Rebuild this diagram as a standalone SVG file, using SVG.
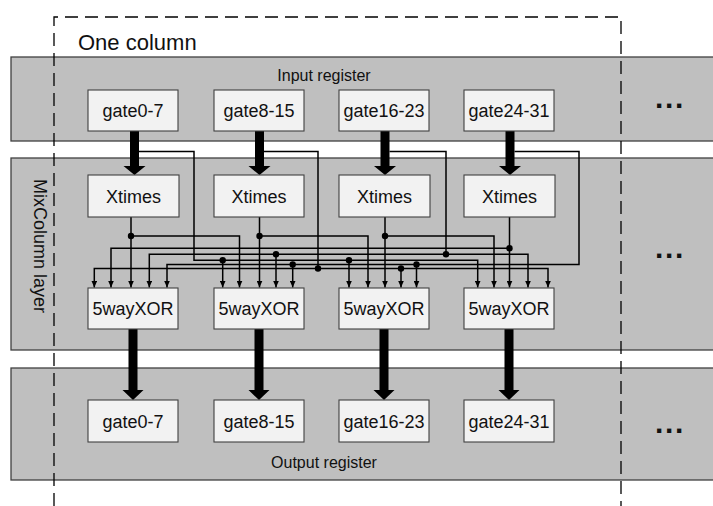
<svg xmlns="http://www.w3.org/2000/svg" width="713" height="506" viewBox="0 0 713 506">
  <style>
    .band { fill: #bfbfbf; stroke: #404040; stroke-width: 1.3; }
    .box { fill: #f2f2f2; stroke: #404040; stroke-width: 1.1; }
    .lbl { font-family: "Liberation Sans", Arial, sans-serif; font-size: 18px; fill: #111; text-anchor: middle; }
    .cap { font-family: "Liberation Sans", Arial, sans-serif; font-size: 16px; fill: #111; text-anchor: middle; }
    .dots { font-family: "Liberation Sans", Arial, sans-serif; font-size: 30px; font-weight: bold; fill: #111; text-anchor: middle; letter-spacing: 1.7px; }
    .wire { fill: none; stroke: #000; stroke-width: 1.5; }
    .wa { fill: none; stroke: #000; stroke-width: 1.5; marker-end: url(#tip); }
    .bus { fill: #000; }
    .jn { fill: #000; }
    .frame { fill: none; stroke: #000; stroke-width: 1.3; stroke-dasharray: 13 7; }
  </style>
  <defs>
    <marker id="tip" markerUnits="userSpaceOnUse" viewBox="0 0 7 6" markerWidth="7" markerHeight="6" refX="7" refY="3" orient="auto">
      <path d="M0,0 L7,3 L0,6 z" fill="#000"/>
    </marker>
  </defs>

  <rect width="713" height="506" fill="#fff"/>

  <!-- register / layer bands -->
  <g id="input-register">
    <rect class="band" x="11" y="57" width="720" height="84"/>
    <text class="cap" x="324" y="81">Input register</text>
    <text class="dots" x="670" y="108">...</text>
  </g>
  <g id="mixcolumn-layer">
    <rect class="band" x="11" y="158" width="720" height="192"/>
    <text class="cap" transform="translate(34,246) rotate(90)" style="font-size:18px">MixColumn layer</text>
    <text class="dots" x="670" y="258">...</text>
  </g>
  <g id="output-register">
    <rect class="band" x="11" y="368" width="720" height="112"/>
    <text class="cap" x="324" y="468">Output register</text>
    <text class="dots" x="670" y="433">...</text>
  </g>

  <!-- column boundary -->
  <g id="one-column">
    <path class="frame" d="M54,506 V17 H621 V506"/>
    <text x="78" y="50" style="font-family:'Liberation Sans',Arial,sans-serif;font-size:22px;fill:#111">One column</text>
  </g>

  <!-- connectors -->
  <g id="connectors">
    <!-- byte buses -->
    <polygon class="bus" points="130,131 139,131 139,166 145.5,166 134.5,175 123.5,166 130,166"/>
    <polygon class="bus" points="255,131 264,131 264,166 270.5,166 259.5,175 248.5,166 255,166"/>
    <polygon class="bus" points="380.5,131 389.5,131 389.5,166 396,166 385,175 374,166 380.5,166"/>
    <polygon class="bus" points="505.5,131 514.5,131 514.5,166 521,166 510,175 499,166 505.5,166"/>

    <polygon class="bus" points="128.5,329 137.5,329 137.5,390 143.5,390 133,400 122.5,390 128.5,390"/>
    <polygon class="bus" points="254.5,329 263.5,329 263.5,390 269.5,390 259,400 248.5,390 254.5,390"/>
    <polygon class="bus" points="379.5,329 388.5,329 388.5,390 394.5,390 384,400 373.5,390 379.5,390"/>
    <polygon class="bus" points="504.5,329 513.5,329 513.5,390 519.5,390 509,400 498.5,390 504.5,390"/>

    <!-- Xtimes outputs -->
    <path class="wa" d="M131,217 V287.5"/>
    <path class="wa" d="M131,236 H239.5 V287.5"/>
    <path class="wa" d="M259.5,217 V287.5"/>
    <path class="wa" d="M259.5,236 H368 V287.5"/>
    <path class="wa" d="M385,217 V287.5"/>
    <path class="wa" d="M385,236 H494 V287.5"/>
    <path class="wa" d="M509.5,217 V287.5"/>
    <path class="wa" d="M509.5,248.3 H111 V287.5"/>

    <!-- byte 0 -->
    <path class="wa" d="M139,151.5 H194 V260.3 H477.7 V287.5"/>
    <path class="wa" d="M222.7,260.3 V287.5"/>
    <path class="wa" d="M349,260.3 V287.5"/>

    <!-- byte 1 -->
    <path class="wire" d="M264,151.5 H318 V268.5"/>
    <path class="wa" d="M318,268.5 H94.3 V287.5"/>
    <path class="wa" d="M318,268.5 H548 V287.5"/>
    <path class="wa" d="M401,268.5 V287.5"/>

    <!-- byte 2 -->
    <path class="wire" d="M389.5,151.5 H446 V254.3"/>
    <path class="wa" d="M446,254.3 H149.3 V287.5"/>
    <path class="wa" d="M446,254.3 H528 V287.5"/>
    <path class="wa" d="M276,254.3 V287.5"/>

    <!-- byte 3 -->
    <path class="wa" d="M514.5,151.5 H579 V264.5 H167 V287.5"/>
    <path class="wa" d="M292.7,264.5 V287.5"/>
    <path class="wa" d="M416.5,264.5 V287.5"/>

    <!-- junctions -->
    <circle class="jn" cx="131" cy="236" r="3.2"/>
    <circle class="jn" cx="259.5" cy="236" r="3.2"/>
    <circle class="jn" cx="385" cy="236" r="3.2"/>
    <circle class="jn" cx="509.5" cy="248.3" r="3.2"/>
    <circle class="jn" cx="222.7" cy="260.3" r="3.2"/>
    <circle class="jn" cx="349" cy="260.3" r="3.2"/>
    <circle class="jn" cx="318" cy="268.5" r="3.2"/>
    <circle class="jn" cx="401" cy="268.5" r="3.2"/>
    <circle class="jn" cx="446" cy="254.3" r="3.2"/>
    <circle class="jn" cx="276" cy="254.3" r="3.2"/>
    <circle class="jn" cx="292.7" cy="264.5" r="3.2"/>
    <circle class="jn" cx="416.5" cy="264.5" r="3.2"/>
  </g>

  <!-- input register cells -->
  <g id="in-gate0-7"><rect class="box" x="88" y="90" width="90" height="41"/><text class="lbl" x="133" y="117">gate0-7</text></g>
  <g id="in-gate8-15"><rect class="box" x="214" y="90" width="90" height="41"/><text class="lbl" x="259" y="117">gate8-15</text></g>
  <g id="in-gate16-23"><rect class="box" x="339" y="90" width="90" height="41"/><text class="lbl" x="384" y="117">gate16-23</text></g>
  <g id="in-gate24-31"><rect class="box" x="464" y="90" width="90" height="41"/><text class="lbl" x="509" y="117">gate24-31</text></g>

  <!-- Xtimes cells -->
  <g id="xtimes0"><rect class="box" x="88" y="175" width="91" height="42"/><text class="lbl" x="133.5" y="202.5">Xtimes</text></g>
  <g id="xtimes1"><rect class="box" x="214" y="175" width="90" height="42"/><text class="lbl" x="259" y="202.5">Xtimes</text></g>
  <g id="xtimes2"><rect class="box" x="339" y="175" width="91" height="42"/><text class="lbl" x="384.5" y="202.5">Xtimes</text></g>
  <g id="xtimes3"><rect class="box" x="464" y="175" width="91" height="42"/><text class="lbl" x="509.5" y="202.5">Xtimes</text></g>

  <!-- 5-way XOR cells -->
  <g id="xor0"><rect class="box" x="88" y="288" width="90" height="41"/><text class="lbl" x="133" y="315">5wayXOR</text></g>
  <g id="xor1"><rect class="box" x="214" y="288" width="90" height="41"/><text class="lbl" x="259" y="315">5wayXOR</text></g>
  <g id="xor2"><rect class="box" x="339" y="288" width="90" height="41"/><text class="lbl" x="384" y="315">5wayXOR</text></g>
  <g id="xor3"><rect class="box" x="464" y="288" width="90" height="41"/><text class="lbl" x="509" y="315">5wayXOR</text></g>

  <!-- output register cells -->
  <g id="out-gate0-7"><rect class="box" x="88" y="400" width="90" height="42"/><text class="lbl" x="133" y="427.5">gate0-7</text></g>
  <g id="out-gate8-15"><rect class="box" x="214" y="400" width="90" height="42"/><text class="lbl" x="259" y="427.5">gate8-15</text></g>
  <g id="out-gate16-23"><rect class="box" x="339" y="400" width="90" height="42"/><text class="lbl" x="384" y="427.5">gate16-23</text></g>
  <g id="out-gate24-31"><rect class="box" x="464" y="400" width="90" height="42"/><text class="lbl" x="509" y="427.5">gate24-31</text></g>
</svg>
